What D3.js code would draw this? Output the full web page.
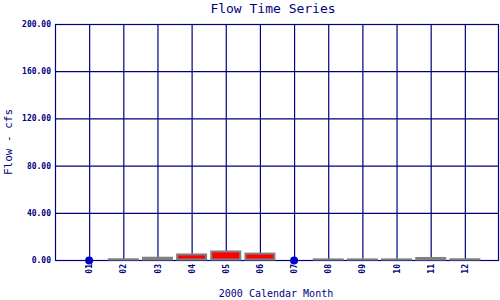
<!DOCTYPE html>
<html>
<head>
<meta charset="utf-8">
<script src="https://cdn.jsdelivr.net/npm/d3@7"></script>
<style>
body { margin: 0; background: #fff; }
text { font-family: "DejaVu Sans Mono", monospace; fill: #000080; }
</style>
</head>
<body>
<div id="chart"></div>
<script>
// chart data
var months = ['01', '02', '03', '04', '05', '06', '07', '08', '09', '10', '11', '12'];
// null = no data (drawn as a dot on the axis)
var flows = [null, 0.2, 1.5, 4.3, 6.8, 5.0, null, 0.1, 0.1, 0.1, 1.3, 0.2];
var yTicks = [0, 40, 80, 120, 160, 200];

var svgWidth = 500;
var svgHeight = 300;
var margins = { top: 24, right: 1, bottom: 40, left: 55 };
var chartWidth = svgWidth - margins.left - margins.right;
var chartHeight = svgHeight - margins.top - margins.bottom;

var svg = d3.select('#chart')
    .append('svg')
    .attr('width', svgWidth)
    .attr('height', svgHeight);

var chartGroup = svg.append('g')
    .attr('transform', `translate(${margins.left}, ${margins.top})`);

// x scale: month index 0..13, months sit at 1..12
var xScale = d3.scaleLinear()
    .domain([0, months.length + 1])
    .range([0, chartWidth]);

var yScale = d3.scaleLinear()
    .domain([0, 200])
    .range([chartHeight, 0]);

// horizontal grid + y labels
var leftAxis = d3.axisLeft(yScale)
    .tickValues(yTicks)
    .tickSize(-chartWidth)
    .tickPadding(4)
    .tickFormat(d3.format('.2f'));

var yAxisG = chartGroup.append('g').call(leftAxis);
yAxisG.select('.domain').remove();
yAxisG.selectAll('line').attr('stroke', '#000080').attr('stroke-width', 1.2);
yAxisG.selectAll('text')
    .attr('font-size', 8)
    .attr('font-weight', 'bold')
    .attr('fill', '#000080')
    .style('font-family', '"DejaVu Sans Mono", monospace');

// vertical grid + x labels
var bottomAxis = d3.axisBottom(xScale)
    .tickValues(d3.range(1, months.length + 1))
    .tickSize(-chartHeight)
    .tickFormat((d, i) => months[i]);

var xAxisG = chartGroup.append('g')
    .attr('transform', `translate(0, ${chartHeight})`)
    .call(bottomAxis);
xAxisG.select('.domain').remove();
xAxisG.selectAll('line').attr('stroke', '#000080').attr('stroke-width', 1.2);
xAxisG.selectAll('text')
    .attr('transform', 'rotate(-90)')
    .attr('x', -4)
    .attr('y', 0)
    .attr('dy', '0.32em')
    .attr('text-anchor', 'end')
    .attr('font-size', 8)
    .attr('font-weight', 'bold')
    .attr('fill', '#000080')
    .style('font-family', '"DejaVu Sans Mono", monospace');

// plot frame
chartGroup.append('rect')
    .attr('x', 0.5)
    .attr('y', 0.5)
    .attr('width', chartWidth - 1)
    .attr('height', chartHeight)
    .attr('fill', 'none')
    .attr('stroke', '#000080')
    .attr('stroke-width', 1.2);

// bars
var barWidth = 29;
chartGroup.selectAll('.bar')
    .data(flows.map((v, i) => ({ m: i + 1, v: v })).filter(d => d.v !== null))
    .enter()
    .append('rect')
    .attr('class', 'bar')
    .attr('x', d => xScale(d.m) - barWidth / 2)
    .attr('y', d => yScale(d.v) - 0.5)
    .attr('width', barWidth)
    .attr('height', d => yScale(0) - yScale(d.v))
    .attr('fill', 'red')
    .attr('stroke', '#808080')
    .attr('stroke-width', 2);

// missing months as dots
chartGroup.selectAll('.dot')
    .data(flows.map((v, i) => ({ m: i + 1, v: v })).filter(d => d.v === null))
    .enter()
    .append('circle')
    .attr('class', 'dot')
    .attr('cx', d => xScale(d.m))
    .attr('cy', yScale(0) + 0.5)
    .attr('r', 4)
    .attr('fill', '#0000cc');

// titles
svg.append('text')
    .attr('x', 273)
    .attr('y', 13)
    .attr('text-anchor', 'middle')
    .attr('font-size', 13)
    .text('Flow Time Series');

svg.append('text')
    .attr('x', 276)
    .attr('y', 297)
    .attr('text-anchor', 'middle')
    .attr('font-size', 10)
    .text('2000 Calendar Month');

svg.append('text')
    .attr('transform', 'translate(12, 142) rotate(-90)')
    .attr('text-anchor', 'middle')
    .attr('font-size', 11)
    .text('Flow - cfs');
</script>
</body>
</html>
